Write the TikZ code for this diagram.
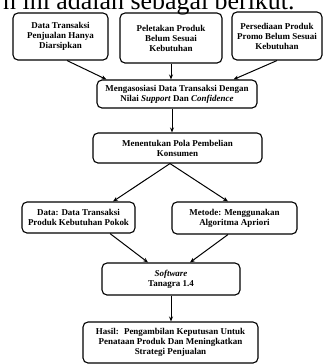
\documentclass[tikz,border=0pt]{standalone}
\usepackage{fontspec}
\setmainfont{Liberation Serif}
\usetikzlibrary{calc,arrows.meta}
\tikzset{
  fbox/.style={draw, line width=1.1pt, rounded corners=5pt, align=center,
    font=\bfseries\fontsize{9}{10}\selectfont, inner sep=0pt},
  arr/.style={-{Stealth[length=5pt,width=4pt]}, line width=1pt},
}
\begin{document}
\begin{tikzpicture}[x=1bp,y=-1bp]
\useasboundingbox (0,0) rectangle (324,364);
\node[anchor=base west, font=\fontsize{26}{28}\selectfont, inner sep=0pt] (hdr) at (3,9) {n ini adalah sebagai berikut.};

\node[fbox, minimum width=95bp, minimum height=47bp] (b1) at (60.5,36.5) {Data Transaksi\\Penjualan Hanya\\Diarsipkan};
\node[fbox, minimum width=102bp, minimum height=50bp] (b2) at (171,38) {Peletakan Produk\\Belum Sesuai\\Kebutuhan};
\node[fbox, minimum width=90bp, minimum height=48bp] (b3) at (277,36) {Persediaan Produk\\Promo Belum Sesuai\\Kebutuhan};
\node[fbox, minimum width=160bp, minimum height=28bp] (b4) at (177,94) {Mengasosiasi Data Transaksi Dengan\\Nilai \textit{Support} Dan \textit{Confidence}};
\node[fbox, minimum width=169bp, minimum height=30bp] (b5) at (177.5,148) {Menentukan Pola Pembelian\\Konsumen};
\node[fbox, minimum width=113bp, minimum height=31bp] (b6) at (78.5,217.5) {Data: Data Transaksi\\Produk Kebutuhan Pokok};
\node[fbox, minimum width=125bp, minimum height=32bp] (b7) at (234.5,218) {Metode: Menggunakan\\Algoritma Apriori};
\node[fbox, minimum width=138bp, minimum height=32bp] (b8) at (171,279) {\textit{Software}\\Tanagra 1.4};
\node[fbox, minimum width=175bp, minimum height=41bp] (b9) at (170.5,342.5) {Hasil:~ Pengambilan Keputusan Untuk\\Penataan Produk Dan Meningkatkan\\Strategi Penjualan};

\draw[arr] ($(b1.south)+(6.5,0)$) -- ($(b4.north west)+(10,0)$);
\draw[arr] (b2.south) -- (b2.south |- b4.north);
\draw[arr] (b3.south) -- ($(b4.north east)+(-24,0)$);
\coordinate (c45) at ($(b4.south)+(-5,0)$);
\draw[arr] (c45) -- (c45 |- b5.north);
\coordinate (split) at ($(b5.south)+(-7.5,0)$);
\draw[arr] (split) -- ($(b6.north)+(34.5,0)$);
\draw[arr] (split) -- ($(b7.north)+(-6.5,0)$);
\draw[arr] ($(b6.south)+(31.5,0)$) -- ($(b8.north)+(-23,0)$);
\draw[arr] ($(b7.south)+(-6.5,0)$) -- ($(b8.north)+(19,0)$);
\draw[arr] (b8.south) -- (b8.south |- b9.north);
\end{tikzpicture}
\end{document}
